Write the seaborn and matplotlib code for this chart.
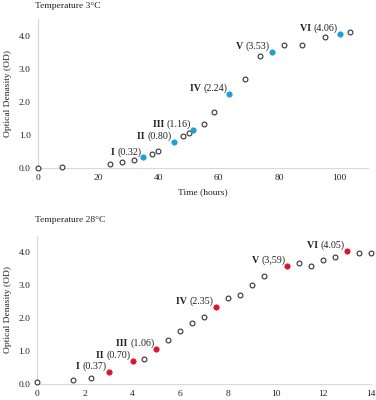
import matplotlib
matplotlib.use('Agg')
import matplotlib.pyplot as plt
import seaborn as sns
import pandas as pd

# 3 °C culture (time in hours)
t3_x = [0, 8, 24, 28, 32, 38, 40, 48, 50, 55, 58.5, 68.5, 73.5, 81.5, 87.5, 95, 103.5]
t3_y = [0.0, 0.02, 0.11, 0.17, 0.24, 0.43, 0.50, 0.96, 1.06, 1.34, 1.69, 2.70, 3.38, 3.72, 3.74, 3.96, 4.11]
t3_phase_x = [35, 45, 51.5, 63.5, 77.5, 100]
t3_phase_y = [0.32, 0.80, 1.16, 2.24, 3.53, 4.06]
t3_phase_txt = ["(0.32)", "(0.80)", "(1.16)", "(2.24)", "(3.53)", "(4.06)"]

# 28 °C culture
t28_x = [0, 1.5, 2.25, 4.5, 5.5, 6, 6.5, 7, 8, 8.5, 9, 9.5, 11, 11.5, 12, 12.5, 13.5, 14]
t28_y = [0.04, 0.10, 0.17, 0.74, 1.33, 1.60, 1.84, 2.02, 2.61, 2.71, 3.02, 3.27, 3.67, 3.60, 3.78, 3.87, 3.99, 3.99]
t28_phase_x = [3, 4, 5, 7.5, 10.5, 13]
t28_phase_y = [0.37, 0.70, 1.06, 2.35, 3.59, 4.05]
t28_phase_txt = ["(0.37)", "(0.70)", "(1.06)", "(2.35)", "(3,59)", "(4.05)"]

phases = ["I", "II", "III", "IV", "V", "VI"]
yticks = [0.0, 1.0, 2.0, 3.0, 4.0]

sns.set_style("white")
plt.rcParams['font.family'] = ['Liberation Serif', 'DejaVu Serif']
FS = 6.8
AFS = 7.2

fig = plt.figure(figsize=(3.76, 4.0), dpi=100)
ax1 = fig.add_axes([37.7/376, 1-168/400, 330.3/376, 148.5/400])
ax2 = fig.add_axes([37.3/376, 1-383.7/400, 333.4/376, 147.7/400])


def panel(ax, x, y, px, py, ptxt, color, xmax, xt):
    df = pd.DataFrame({"x": x, "y": y})
    dp = pd.DataFrame({"x": px, "y": py})
    sns.scatterplot(data=df, x="x", y="y", ax=ax, s=12, facecolor="white",
                    edgecolor="#333333", linewidth=0.8, clip_on=False, zorder=3)
    sns.scatterplot(data=dp, x="x", y="y", ax=ax, s=15, color=color,
                    edgecolor=color, linewidth=0.5, clip_on=False, zorder=4)
    for ph, xx, yy, tx in zip(phases, px, py, ptxt):
        t = ax.annotate(tx, xy=(xx, yy), xytext=(-1.5, 0.5), textcoords="offset points",
                        ha="right", va="bottom", fontsize=AFS, color="#222222")
        ax.annotate(ph + " ", xy=(0, 0), xycoords=t, ha="right", va="bottom",
                    fontsize=AFS, fontweight="bold", color="#222222")
    ax.set_xlim(0, xmax)
    ax.set_ylim(0, 4.5)
    ax.set_xticks(xt)
    ax.set_yticks(yticks)
    ax.set_yticklabels([f"{v:.1f}" for v in yticks])
    ax.tick_params(length=0, labelsize=FS, colors="#222222")
    ax.tick_params(axis="x", pad=4.5)
    ax.tick_params(axis="y", pad=5)
    sns.despine(ax=ax)
    for s in ["left", "bottom"]:
        ax.spines[s].set_color("#d9d9d9")
        ax.spines[s].set_linewidth(0.8)
    ax.set_ylabel("Optical Denasity (OD)", fontsize=FS, color="#222222", labelpad=5)
    ax.set_xlabel("")


panel(ax1, t3_x, t3_y, t3_phase_x, t3_phase_y, t3_phase_txt, "#1c9ed8", 109.4, [0, 20, 40, 60, 80, 100])
panel(ax2, t28_x, t28_y, t28_phase_x, t28_phase_y, t28_phase_txt, "#e2122c", 14, [0, 2, 4, 6, 8, 10, 12, 14])
ax1.set_xlabel("Time (hours)", fontsize=FS, color="#222222", labelpad=4)

fig.text(35/376, 1-6/400, "Temperature 3°C", fontsize=FS, va="center", color="#222222")
fig.text(35/376, 1-220/400, "Temperature 28°C", fontsize=FS, va="center", color="#222222")

fig.savefig("out.png", dpi=100)
plt.close(fig)
